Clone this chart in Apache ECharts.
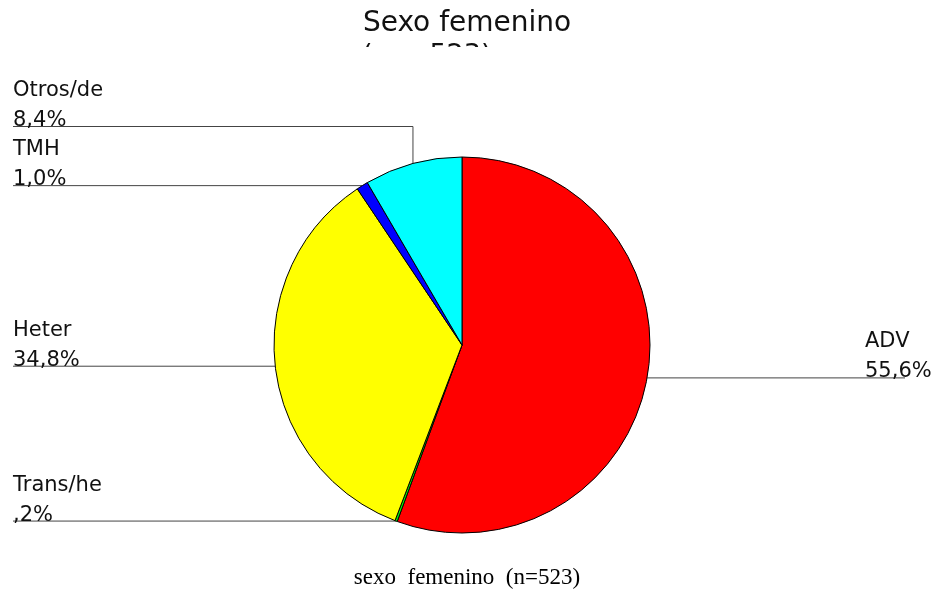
<!DOCTYPE html>
<html>
<head>
<meta charset="utf-8">
<script src="https://cdn.jsdelivr.net/npm/echarts@6/dist/echarts.min.js"></script>
<style>
  html, body { margin: 0; padding: 0; background: #fff; }
  #chart { width: 934px; height: 596px; }
</style>
</head>
<body>
<div id="chart"></div>
<script>
var categories = ['ADV', 'Trans/he', 'Heter', 'TMH', 'Otros/de'];
var values = [55.6, 0.2, 34.8, 1.0, 8.4];
var colors = ['#ff0000', '#00ff00', '#ffff00', '#0000ff', '#00ffff'];

// 55.6 -> "55,6%", 0.2 -> ",2%"
function pct(v) {
    var s = v.toFixed(1).replace('.', ',');
    if (s.indexOf('0,') === 0) s = s.substring(1);
    return s + '%';
}

var myChart = echarts.init(document.getElementById('chart'));

var option = {
    animation: false,
    title: {
        text: 'Sexo femenino',
        left: 'center',
        top: 5,
        textStyle: { fontFamily: 'DejaVu Sans', fontSize: 28, fontWeight: 'normal', color: '#111' }
    },
    graphic: [
        {
            type: 'text', left: 362, top: 42, z: 1,
            style: { text: '(n = 523)', font: '27px "DejaVu Sans"', fill: '#111' }
        },
        {
            // segunda linea del titulo recortada
            type: 'rect', left: 340, top: 47, z: 10,
            shape: { width: 200, height: 28 },
            style: { fill: '#fff' }
        },
        {
            type: 'text', left: 'center', top: 566,
            style: { text: 'sexo  femenino  (n=523)', font: '23px "Liberation Serif"', fill: '#000' }
        }
    ],
    series: [{
        name: 'Sexo femenino',
        type: 'pie',
        center: [462, 345],
        radius: 188,
        startAngle: 90,
        clockwise: true,
        avoidLabelOverlap: false,
        data: categories.map(function(c, i) {
            return { name: c, value: values[i], itemStyle: { color: colors[i] } };
        }),
        itemStyle: { borderColor: '#000', borderWidth: 1 },
        label: {
            show: true,
            position: 'outside',
            formatter: function(p) { return p.name + '\n' + pct(p.value); },
            fontFamily: 'DejaVu Sans',
            fontSize: 21,
            lineHeight: 30,
            color: '#111'
        },
        labelLine: {
            show: true,
            lineStyle: { color: '#444', width: 1 }
        },
        labelLayout: function(params) {
            var a = params.labelLinePoints[0];
            var lineY = a[1];
            if (params.dataIndex === 4) lineY = a[1] - 37; // subir etiqueta Otros
            var right = a[0] > 462;
            var lx = right ? 865 : 13;
            var endX = right ? 905 : 13;
            return {
                x: lx,
                y: lineY + 9,
                align: 'left',
                verticalAlign: 'bottom',
                labelLinePoints: [[a[0], a[1]], [a[0], lineY], [endX, lineY]]
            };
        },
        emphasis: { disabled: true }
    }]
};

myChart.setOption(option);

// 自适应
window.addEventListener('resize', function() {
    myChart.resize();
});
</script>
</body>
</html>
